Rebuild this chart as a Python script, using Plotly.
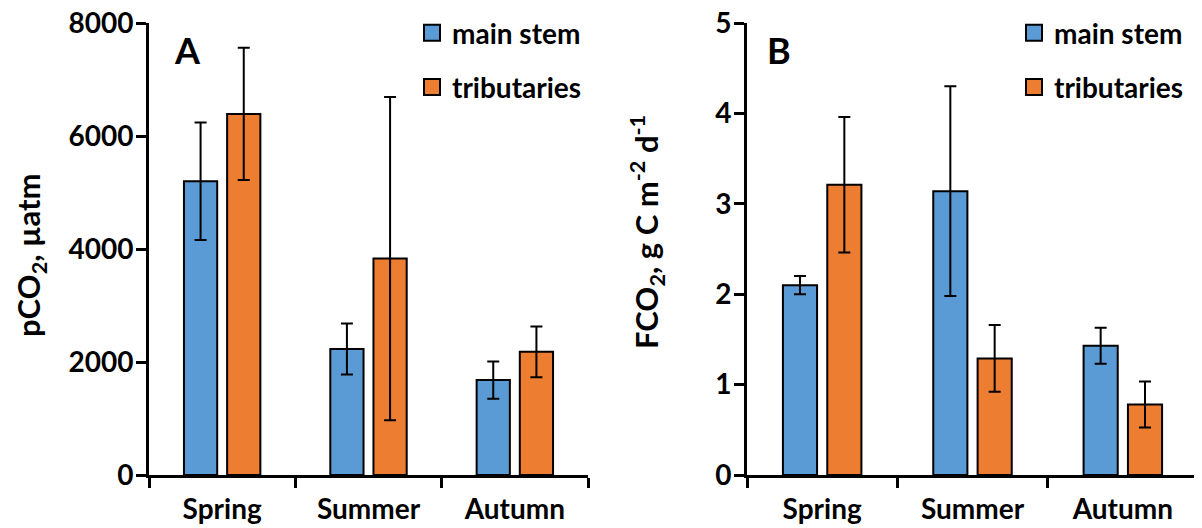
import plotly.graph_objects as go

seasons = ["Spring", "Summer", "Autumn"]

pco2_main = [5200, 2230, 1680]
pco2_main_err = [1040, 450, 330]
pco2_trib = [6390, 3830, 2180]
pco2_trib_err = [1170, 2860, 450]

fco2_main = [2.10, 3.14, 1.43]
fco2_main_err = [0.10, 1.16, 0.20]
fco2_trib = [3.21, 1.29, 0.78]
fco2_trib_err = [0.75, 0.37, 0.255]

series_names = ["main stem", "tributaries"]
colors = ["#5B9BD5", "#ED7D31"]

# page body has an 8px margin; map target page pixels to figure fractions
OFF = 8
W, H = 1202 - OFF, 528 - OFF
FONT = "Lato"
FS = 28
TFS = 31

def px(x):
    return (x - OFF) / W

def py(y):
    return 1 - (y - OFF) / H

fig = go.Figure()

def add_bar(xaxis, yaxis, y, err, name, color, legend):
    fig.add_trace(go.Bar(
        x=seasons, y=y, name=name, xaxis=xaxis, yaxis=yaxis,
        marker=dict(color=color, line=dict(color="black", width=2)),
        error_y=dict(type="data", array=err, visible=True, color="black",
                     thickness=2, width=6),
        showlegend=False, legendgroup=legend + name,
    ))
    # legend entry with a larger square swatch
    fig.add_trace(go.Scatter(
        x=[None], y=[None], mode="markers", name=name, xaxis=xaxis, yaxis=yaxis,
        marker=dict(symbol="square", size=16, color=color,
                    line=dict(color="black", width=2)),
        legend=legend, showlegend=True, legendgroup=legend + name,
        hoverinfo="skip",
    ))

add_bar("x", "y", pco2_main, pco2_main_err, series_names[0], colors[0], "legend")
add_bar("x", "y", pco2_trib, pco2_trib_err, series_names[1], colors[1], "legend")
add_bar("x2", "y2", fco2_main, fco2_main_err, series_names[0], colors[0], "legend2")
add_bar("x2", "y2", fco2_trib, fco2_trib_err, series_names[1], colors[1], "legend2")

axis_common = dict(showline=True, linecolor="black", linewidth=3, ticks="outside",
                   ticklen=10, tickwidth=3, tickcolor="black", showgrid=False,
                   zeroline=False, automargin=False, ticklabeloverflow="allow",
                   tickfont=dict(family=FONT, size=FS, color="black", weight="bold"))

xaxis_common = dict(axis_common, type="category", tickson="boundaries",
                    range=[-0.5, 2.5], ticklabelstandoff=7)
yaxis_common = dict(axis_common, ticklabelstandoff=-3)

y0, y1 = py(475), py(23)

legend_font = dict(family=FONT, size=FS, color="black", weight="bold")

def ann(text, x, y, size, angle=0):
    return dict(text=text, x=px(x), y=py(y), xref="paper", yref="paper",
                xanchor="center", yanchor="middle", textangle=angle,
                showarrow=False, font=dict(family=FONT, size=size, weight="bold"))

fig.update_layout(
    width=W, height=H,
    margin=dict(l=0, r=0, t=0, b=0),
    paper_bgcolor="white", plot_bgcolor="white",
    barmode="group", bargap=0.41, bargroupgap=0.23,
    font=dict(family=FONT, color="black"),
    xaxis=dict(xaxis_common, domain=[px(149), px(588)], anchor="y"),
    yaxis=dict(yaxis_common, domain=[y0, y1], range=[0, 8000],
               tickvals=[0, 2000, 4000, 6000, 8000], anchor="x"),
    xaxis2=dict(xaxis_common, domain=[px(747), px(1198)], anchor="y2"),
    yaxis2=dict(yaxis_common, domain=[y0, y1], range=[0, 5],
                tickvals=[0, 1, 2, 3, 4, 5], anchor="x2"),
    legend=dict(x=px(412), y=1, xanchor="left", yanchor="top",
                font=legend_font, tracegroupgap=15, bgcolor="rgba(0,0,0,0)"),
    legend2=dict(x=px(1014), y=1, xanchor="left", yanchor="top",
                 font=legend_font, tracegroupgap=15, bgcolor="rgba(0,0,0,0)"),
    annotations=[
        ann("A", 187, 50, 36),
        ann("B", 779, 50, 36),
        ann("pCO<sub>2</sub>, µatm", 30, 255, TFS, -90),
        ann("FCO<sub>2</sub>, g C m<sup>-2</sup> d<sup>-1</sup>", 647, 232, TFS, -90),
    ],
)

fig.write_html("out.html")
